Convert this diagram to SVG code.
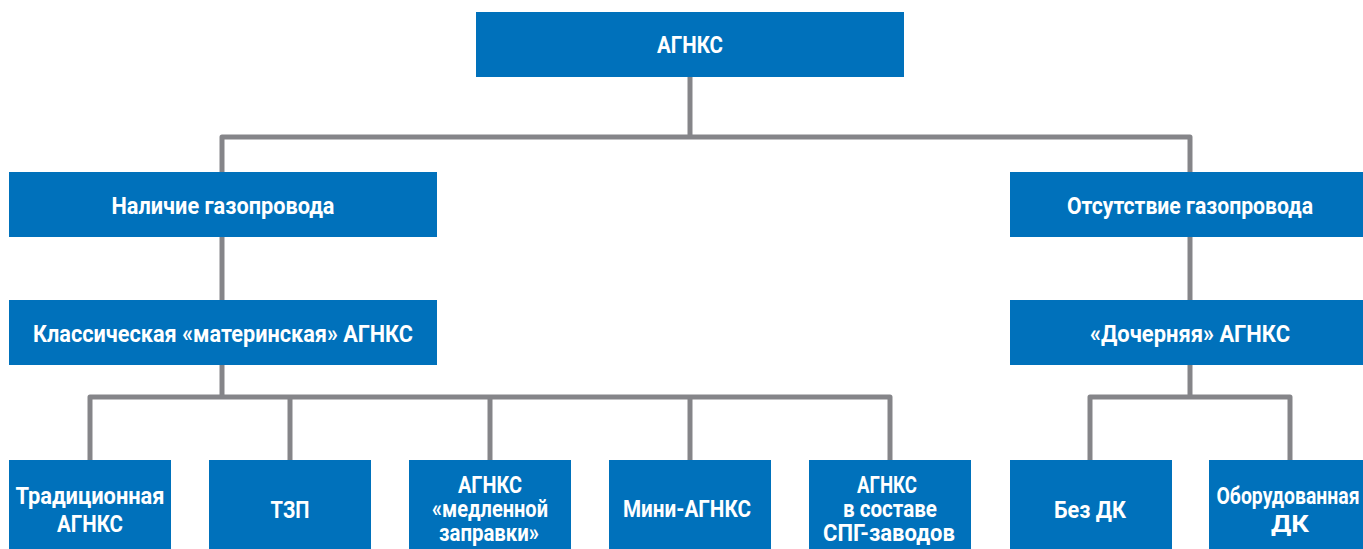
<svg xmlns="http://www.w3.org/2000/svg" width="1363" height="549" viewBox="0 0 1363 549">
<style>
.box{fill:#0071BB}
.t{font-family:Roboto,"Liberation Sans",sans-serif;font-weight:bold;font-size:24px;fill:#ffffff;text-anchor:middle}
.s{font-size:23px}
.c{fill:none;stroke:#858589;stroke-width:5;stroke-linejoin:round;stroke-linecap:butt}
</style>
<rect width="1363" height="549" fill="#ffffff"/>
<g id="connectors">
<path class="c" d="M690 77V137M222 172V137H1190V172"/>
<path class="c" d="M222 237V300M1190 237V300"/>
<path class="c" d="M222 365V397M90 460V397H890V460M290 397V460M490 397V460M690 397V460"/>
<path class="c" d="M1190 365V397M1090 460V397H1290V460"/>
</g>
<g id="n-root"><rect class="box" x="476" y="12" width="428" height="65"/><text class="t" x="690" y="53" textLength="66" lengthAdjust="spacingAndGlyphs">АГНКС</text></g>
<g id="n-gas"><rect class="box" x="9" y="172" width="428" height="65"/><text class="t" x="223" y="214" textLength="223" lengthAdjust="spacingAndGlyphs">Наличие газопровода</text></g>
<g id="n-nogas"><rect class="box" x="1010" y="172" width="353" height="65"/><text class="t" x="1190" y="214" textLength="246" lengthAdjust="spacingAndGlyphs">Отсутствие газопровода</text></g>
<g id="n-classic"><rect class="box" x="9" y="300" width="428" height="65"/><text class="t" x="223" y="342" textLength="380" lengthAdjust="spacingAndGlyphs">Классическая «материнская» АГНКС</text></g>
<g id="n-daughter"><rect class="box" x="1010" y="300" width="353" height="65"/><text class="t" x="1190" y="342" textLength="200" lengthAdjust="spacingAndGlyphs">«Дочерняя» АГНКС</text></g>
<g id="n-trad"><rect class="box" x="9" y="460" width="162" height="95"/><text class="t" x="90" y="504" textLength="149" lengthAdjust="spacingAndGlyphs">Традиционная</text><text class="t" x="90" y="532" textLength="66" lengthAdjust="spacingAndGlyphs">АГНКС</text></g>
<g id="n-tzp"><rect class="box" x="209" y="460" width="162" height="95"/><text class="t" x="290" y="518" textLength="39" lengthAdjust="spacingAndGlyphs">ТЗП</text></g>
<g id="n-slow"><rect class="box" x="409" y="460" width="162" height="95"/><text class="t s" x="490" y="493" textLength="64" lengthAdjust="spacingAndGlyphs">АГНКС</text><text class="t s" x="490" y="517" textLength="116" lengthAdjust="spacingAndGlyphs">«медленной</text><text class="t s" x="489" y="541" textLength="100" lengthAdjust="spacingAndGlyphs">заправки»</text></g>
<g id="n-mini"><rect class="box" x="609" y="460" width="162" height="95"/><text class="t" x="687" y="517" textLength="128" lengthAdjust="spacingAndGlyphs">Мини-АГНКС</text></g>
<g id="n-lng"><rect class="box" x="809" y="460" width="162" height="95"/><text class="t s" x="887" y="493" textLength="60" lengthAdjust="spacingAndGlyphs">АГНКС</text><text class="t s" x="890" y="517" textLength="94" lengthAdjust="spacingAndGlyphs">в составе</text><text class="t s" x="889" y="541" textLength="132" lengthAdjust="spacingAndGlyphs">СПГ-заводов</text></g>
<g id="n-nodk"><rect class="box" x="1010" y="460" width="162" height="95"/><text class="t" x="1090" y="518" textLength="72" lengthAdjust="spacingAndGlyphs">Без ДК</text></g>
<g id="n-dk"><rect class="box" x="1209" y="460" width="162" height="95"/><text class="t" x="1288" y="504" textLength="143" lengthAdjust="spacingAndGlyphs">Оборудованная</text><text class="t" x="1290" y="532" textLength="38" lengthAdjust="spacingAndGlyphs">ДК</text></g>
</svg>
